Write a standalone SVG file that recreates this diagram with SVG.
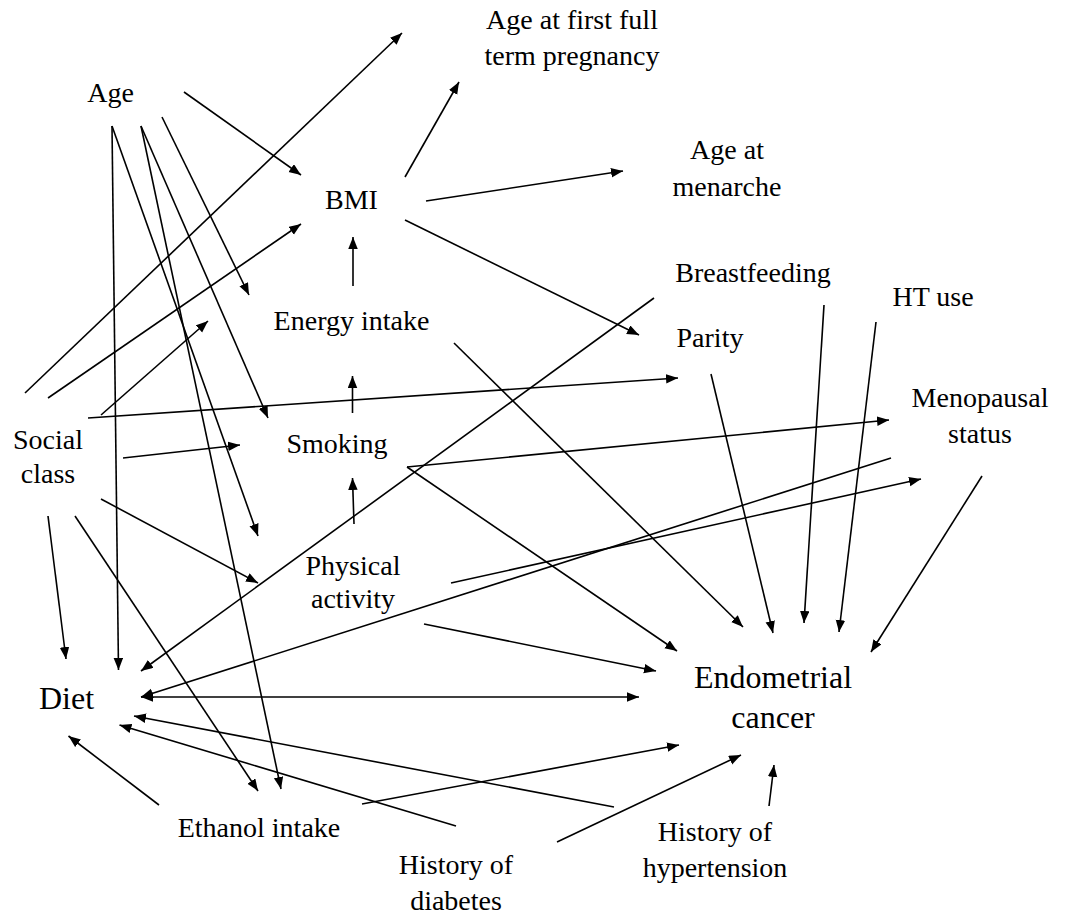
<svg xmlns="http://www.w3.org/2000/svg" width="1068" height="917" viewBox="0 0 1068 917">
<style>
text{font-family:"Liberation Serif","Times New Roman",serif;font-size:28px;fill:#000;text-anchor:middle}
text.big{font-size:32px}
#connectors line{stroke:#000;stroke-width:1.6;fill:none;marker-end:url(#ah)}
#connectors line.both{marker-start:url(#ah)}
</style>
<defs>
<marker id="ah" markerUnits="userSpaceOnUse" markerWidth="13" markerHeight="10" refX="12" refY="4.75" orient="auto-start-reverse" viewBox="0 0 13 10">
<path d="M0,0 L12,4.75 L0,9.5 z" fill="#000"/>
</marker>
</defs>
<rect width="1068" height="917" fill="#fff"/>
<g id="connectors">
<line x1="184" y1="92" x2="301" y2="175"/>
<line x1="112" y1="126" x2="118.5" y2="670"/>
<line x1="112" y1="126" x2="258" y2="536"/>
<line x1="141" y1="126" x2="281" y2="789"/>
<line x1="141" y1="126" x2="268" y2="418"/>
<line x1="162" y1="117" x2="249" y2="295"/>
<line x1="25" y1="393" x2="402" y2="33"/>
<line x1="48" y1="398" x2="301" y2="224"/>
<line x1="101" y1="415" x2="208" y2="321"/>
<line x1="88" y1="418" x2="678" y2="378"/>
<line x1="123" y1="458" x2="240" y2="445"/>
<line x1="101" y1="499" x2="258" y2="583"/>
<line x1="48" y1="516" x2="66" y2="659"/>
<line x1="75" y1="516" x2="258" y2="791"/>
<line x1="405" y1="177" x2="459" y2="82"/>
<line x1="426" y1="201" x2="623" y2="171"/>
<line x1="405" y1="220" x2="639" y2="335"/>
<line x1="353" y1="286" x2="353" y2="237"/>
<line x1="352.5" y1="413" x2="352.5" y2="376"/>
<line x1="354" y1="524" x2="352.5" y2="478"/>
<line x1="454" y1="343" x2="743" y2="627"/>
<line x1="407" y1="467" x2="889" y2="420"/>
<line x1="407" y1="467" x2="677" y2="651"/>
<line x1="654" y1="298" x2="141" y2="671"/>
<line x1="824" y1="305" x2="804" y2="623"/>
<line x1="876" y1="322" x2="839" y2="632"/>
<line x1="711" y1="374" x2="773" y2="633"/>
<line x1="982" y1="476" x2="871" y2="652"/>
<line x1="891" y1="458" x2="141" y2="697"/>
<line x1="451" y1="583" x2="921" y2="479"/>
<line x1="424" y1="624" x2="656" y2="671"/>
<line class="both" x1="141" y1="697" x2="639" y2="697"/>
<line x1="614" y1="807" x2="134" y2="716"/>
<line x1="456" y1="826" x2="119.5" y2="725"/>
<line x1="159" y1="805" x2="68.5" y2="736"/>
<line x1="362" y1="804" x2="679" y2="745"/>
<line x1="557" y1="842" x2="741" y2="755"/>
<line x1="769" y1="806" x2="774" y2="765"/>
</g>
<g id="age"><text x="110.5" y="102">Age</text></g>
<g id="bmi"><text x="351.5" y="209">BMI</text></g>
<g id="first-pregnancy"><text x="572" y="29">Age at first full</text><text x="572" y="65">term pregnancy</text></g>
<g id="menarche"><text x="727" y="159">Age at</text><text x="727" y="196">menarche</text></g>
<g id="breastfeeding"><text x="753" y="282">Breastfeeding</text></g>
<g id="ht-use"><text x="933" y="306">HT use</text></g>
<g id="parity"><text x="710" y="347">Parity</text></g>
<g id="menopausal"><text x="980" y="407">Menopausal</text><text x="980" y="443">status</text></g>
<g id="energy"><text x="351.5" y="330">Energy intake</text></g>
<g id="smoking"><text x="337" y="453">Smoking</text></g>
<g id="social-class"><text x="48" y="449">Social</text><text x="48" y="483">class</text></g>
<g id="physical-activity"><text x="353" y="575">Physical</text><text x="353" y="608">activity</text></g>
<g id="diet"><text class="big" x="66.5" y="709">Diet</text></g>
<g id="ethanol"><text x="259" y="837">Ethanol intake</text></g>
<g id="diabetes"><text x="456" y="874">History of</text><text x="456" y="910">diabetes</text></g>
<g id="hypertension"><text x="715" y="841">History of</text><text x="715" y="877">hypertension</text></g>
<g id="endometrial-cancer"><text class="big" x="773" y="688">Endometrial</text><text class="big" x="773" y="728">cancer</text></g>
</svg>
